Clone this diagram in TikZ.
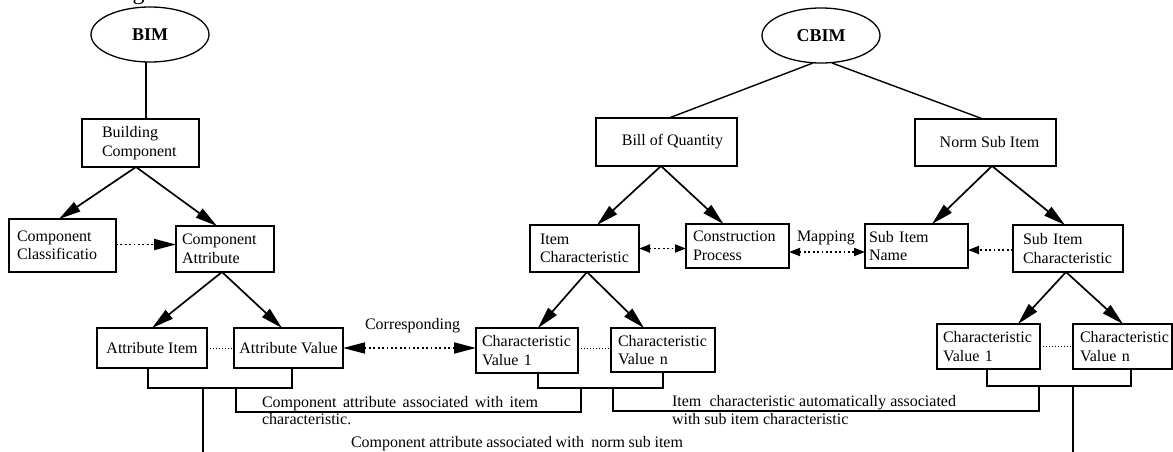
\documentclass[tikz,border=0pt]{standalone}
\usepackage{fontspec}
\setmainfont{Liberation Serif}
\usetikzlibrary{arrows.meta,shapes.geometric}
\newcommand\fsx{\fontsize{16pt}{18.5pt}\selectfont\hyphenpenalty=10000\exhyphenpenalty=10000}
\begin{document}
\begin{tikzpicture}[x=1pt,y=-1pt,
  bx/.style={draw, line width=1.5pt, rectangle, inner ysep=0pt, outer sep=0pt, align=left, font=\fsx, anchor=north west},
  cx/.style={draw, line width=1.5pt, rectangle, inner sep=0pt, outer sep=0pt, font=\fsx, anchor=north west},
  ov/.style={draw, ellipse, line width=1.3pt, minimum width=118pt, minimum height=55pt, inner sep=0pt, outer sep=0pt, font=\fontsize{18pt}{20pt}\selectfont\bfseries},
  ln/.style={line width=1.4pt},
  arr/.style={line width=1.7pt, -bigtip},
  dar/.style={line width=1.8pt, dash pattern=on 1.8pt off 2.6pt},
  vd/.style={line width=1pt, dash pattern=on 1pt off 2pt},
  br/.style={line width=1.2pt},
  lbl/.style={inner sep=0pt, outer sep=0pt, font=\fsx},
  bigtip/.tip={Triangle[length=22pt,width=11pt]},
  smtip/.tip={Triangle[length=11pt,width=8pt]}
]
\useasboundingbox (0,0) rectangle (1173,452);

% title fragment (clipped at the top edge, as in the reference)
\node[anchor=base, inner sep=0pt, font=\fontsize{24pt}{26pt}\selectfont] (gfrag) at (138.5,0) {g};

% roots
\node[ov] (BIM) at (150,34.5) {BIM};
\node[ov] (CBIM) at (821,35.5) {CBIM};

% BIM side boxes
\node[bx, minimum width=117pt, minimum height=48pt, inner xsep=20pt, text width=77pt] (BC) at (82,119) {Building\\Component};
\node[bx, minimum width=107pt, minimum height=53pt, inner xsep=8pt, text width=91pt] (CC) at (9,219) {Component\\Classificatio};
\node[bx, minimum width=98pt, minimum height=46pt, inner xsep=6pt, text width=86pt] (CA) at (176,226) {Component\\Attribute};
\node[cx, minimum width=110pt, minimum height=40pt] (AI) at (97,328) {Attribute Item};
\node[cx, minimum width=109pt, minimum height=40pt] (AV) at (234,328) {Attribute Value};

% CBIM side boxes
\node[cx, minimum width=141pt, minimum height=48pt] (BoQ) at (596,118) {\hspace*{12pt}Bill of Quantity};
\node[cx, minimum width=141pt, minimum height=47pt] (NSI) at (915,119) {\hspace*{8pt}Norm Sub Item};
\node[bx, minimum width=109pt, minimum height=47pt, inner xsep=10pt, text width=89pt] (IC) at (530,225) {Item\\Characteristic};
\node[bx, minimum width=103pt, minimum height=44pt, inner xsep=7pt, text width=89pt] (CP) at (686,224) {Construction\\Process};
\node[bx, minimum width=103pt, minimum height=44pt, inner xsep=4pt, text width=95pt] (SIN) at (865,224) {Sub Item\\Name};
\node[bx, minimum width=110pt, minimum height=47pt, inner xsep=10pt, text width=90pt] (SIC) at (1013,225) {Sub Item\\Characteristic};
\node[bx, minimum width=102pt, minimum height=45pt, inner xsep=6pt, text width=90pt] (CV1) at (476,328) {Characteristic\\Value 1};
\node[bx, minimum width=104pt, minimum height=44pt, inner xsep=7pt, text width=90pt] (CVn) at (611,328) {Characteristic\\Value n};
\node[bx, minimum width=103pt, minimum height=45pt, inner xsep=6pt, text width=91pt] (CV1b) at (937,324) {Characteristic\\Value 1};
\node[bx, minimum width=99pt, minimum height=45pt, inner xsep=7pt, text width=85pt] (CVnb) at (1073,324) {Characteristic\\Value n};

% plain tree lines
\draw[ln] ([xshift=-4pt]BIM.south) -- ([xshift=-4pt]BIM.south |- BC.north);
\draw[ln] ([xshift=-8pt]CBIM.south) -- ([xshift=2.5pt]BoQ.north);
\draw[ln] ([xshift=11pt]CBIM.south) -- ([xshift=-2.5pt]NSI.north);

% solid arrows
\draw[arr] ([xshift=-4.5pt]BC.south) -- ([xshift=-3.5pt]CC.north);
\draw[arr] ([xshift=-4.5pt]BC.south) -- ([xshift=-8pt]CA.north);
\draw[arr] ([xshift=-3pt]CA.south) -- (AI.north);
\draw[arr] ([xshift=-3pt]CA.south) -- ([xshift=-6.5pt]AV.north);
\draw[arr] ([xshift=-5.5pt]BoQ.south) -- ([xshift=12.5pt]IC.north);
\draw[arr] ([xshift=-5.5pt]BoQ.south) -- ([xshift=-14pt]CP.north);
\draw[arr] ([xshift=6.5pt]NSI.south) -- ([xshift=15.5pt]SIN.north);
\draw[arr] ([xshift=6.5pt]NSI.south) -- ([xshift=-3pt]SIC.north);
\draw[arr] ([xshift=2.5pt]IC.south) -- ([xshift=11pt]CV1.north);
\draw[arr] ([xshift=2.5pt]IC.south) -- ([xshift=-19pt]CVn.north);
\draw[arr] ([xshift=-2pt]SIC.south) -- ([xshift=29.5pt]CV1b.north);
\draw[arr] ([xshift=-2pt]SIC.south) -- ([xshift=0.5pt]CVnb.north);

% dotted arrows
\draw[dar, -bigtip] ([yshift=1pt]CC.east) -- ([yshift=1pt]CC.east -| CA.west);
\draw[dar, bigtip-bigtip] (AV.east) -- (AV.east -| CV1.west);
\draw[dar, smtip-smtip] (IC.east) -- (IC.east -| CP.west);
\draw[dar, smtip-smtip] ([yshift=-6pt]CP.east) -- ([yshift=-6pt]CP.east -| SIN.west);
\draw[dar, -smtip] ([yshift=-1.5pt]SIC.west) -- ([yshift=-1.5pt]SIC.west -| SIN.east);

% dotted links between sibling boxes
\draw[vd] (AI.east) -- (AV.west);
\draw[vd] ([yshift=2.5pt]CV1.east) -- ([yshift=2.5pt]CV1.east -| CVn.west);
\draw[vd] (CV1b.east) -- (CV1b.east -| CVnb.west);

% brackets
\coordinate (jl) at (203,388);
\coordinate (jl2) at (236,388);
\coordinate (jm) at (581,388);
\coordinate (jm2) at (613,388);
\coordinate (jr) at (1039,387);
\coordinate (jr2) at (1073,386);
\coordinate (endl) at (203,470);
\coordinate (endr) at (1073,470);
\draw[br] ([xshift=-4pt]AI.south) -- ++(0,20) -| ([xshift=3.5pt]AV.south);
\draw[br] ([xshift=11pt]CV1.south) -- ++(0,15) -| (CVn.south);
\draw[br] ([xshift=-1.5pt]CV1b.south) -- ++(0,17) -| ([xshift=8.5pt]CVnb.south);
\draw[br] (jl) -- (endl);
\draw[br] (jl2) -- ++(0,24) -| (jm);
\draw[br] (jm2) -- ++(0,23) -| (jr);
\draw[br] (jr2) -- (endr);

% labels
\node[lbl, anchor=base west] (corr) at (365,329) {Corresponding};
\node[lbl, anchor=base west] (map) at (797,241) {Mapping};
\node[lbl, anchor=base west] (t1a) at (262,407) {\makebox[276pt][s]{Component attribute associated with item}};
\node[lbl, anchor=base west] (t1b) at (262,424) {characteristic.};
\node[lbl, anchor=base west] (t2a) at (672,406) {\makebox[284pt][s]{Item\ \ characteristic automatically associated}};
\node[lbl, anchor=base west] (t2b) at (672,424) {with sub item characteristic};
\node[lbl, anchor=base west] (t3) at (351,447.5) {\makebox[332pt][s]{Component attribute associated with\ \ norm sub item}};
\end{tikzpicture}
\end{document}
